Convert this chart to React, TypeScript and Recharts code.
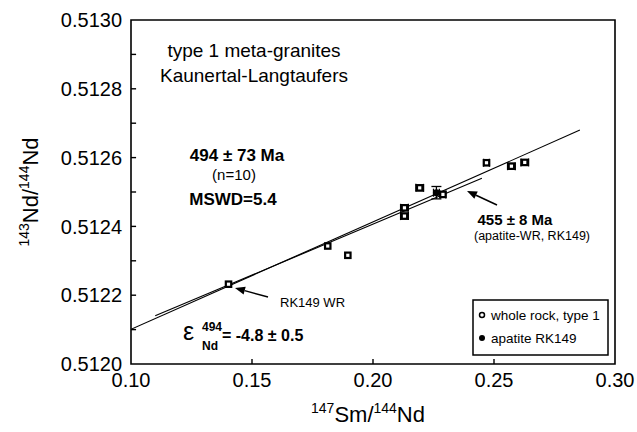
import React from "react";
import {
  ComposedChart,
  XAxis,
  YAxis,
  Scatter,
  Line,
  ErrorBar,
  ReferenceArea,
  ReferenceLine,
} from "recharts";

// whole rock samples, type 1 meta-granites
const wholeRock = [
  { x: 0.1403, y: 0.512232, ex: 0, ey: 0 },
  { x: 0.1813, y: 0.512343, ex: 0, ey: 0 },
  { x: 0.1896, y: 0.512316, ex: 0, ey: 0 },
  { x: 0.213, y: 0.512454, ex: 0.0016, ey: 0.000008 },
  { x: 0.213, y: 0.51243, ex: 0.0016, ey: 0.000008 },
  { x: 0.2193, y: 0.512512, ex: 0.0016, ey: 0.000008 },
  { x: 0.2289, y: 0.512493, ex: 0.0012, ey: 0 },
  { x: 0.2469, y: 0.512585, ex: 0.0012, ey: 0 },
  { x: 0.2572, y: 0.512575, ex: 0.0016, ey: 0.000008 },
  { x: 0.2627, y: 0.512586, ex: 0.0016, ey: 0.000008 },
];
const apatite = [{ x: 0.2262, y: 0.512498, ex: 0.0012, ey: 0.000018 }];

// isochron lines
const isochron494 = [
  { x: 0.1, y: 0.512101 },
  { x: 0.2855, y: 0.51268 },
];
const isochron455 = [
  { x: 0.11, y: 0.51214 },
  { x: 0.245, y: 0.51254 },
];

const xTicks = [0.1, 0.15, 0.2, 0.25, 0.3];
const yTicks = [0.512, 0.5122, 0.5124, 0.5126, 0.5128, 0.513];
const xTickMarks = [0.15, 0.2, 0.25];
const yTickMarks = [0.5121, 0.5122, 0.5123, 0.5124, 0.5125, 0.5126, 0.5127, 0.5128, 0.5129];

const FONT = "'Liberation Sans', Arial, Helvetica, sans-serif";

const OpenSquare = (props: any) => {
  const { cx, cy } = props;
  return <rect x={cx - 2.7} y={cy - 2.7} width={5.4} height={5.4} fill="#fff" stroke="#000" strokeWidth={2.2} />;
};
const FilledDot = (props: any) => {
  const { cx, cy } = props;
  return <circle cx={cx} cy={cy} r={3.5} fill="#000" />;
};

function Arrow({ x1, y1, x2, y2 }: { x1: number; y1: number; x2: number; y2: number }) {
  const a = Math.atan2(y2 - y1, x2 - x1);
  const L = 10;
  const w = 4;
  const bx = x2 - L * Math.cos(a);
  const by = y2 - L * Math.sin(a);
  const px = -Math.sin(a) * w;
  const py = Math.cos(a) * w;
  return (
    <g>
      <line x1={x1} y1={y1} x2={bx} y2={by} stroke="#000" strokeWidth={1.5} />
      <polygon points={`${x2},${y2} ${bx + px},${by + py} ${bx - px},${by - py}`} fill="#000" />
    </g>
  );
}

export default function App() {
  return (
    <div style={{ position: "absolute", left: 0, top: 0, width: 637, height: 432, background: "#fff" }}>
      <ComposedChart width={637} height={432} margin={{ top: 20, right: 22, left: 0, bottom: 0 }}>
        <XAxis
          dataKey="x"
          type="number"
          domain={[0.1, 0.3]}
          ticks={xTicks}
          allowDataOverflow
          height={68}
          axisLine={false}
          tickLine={false}
          tickSize={0}
          tickMargin={9}
          tickFormatter={(v: number) => v.toFixed(2)}
          tick={{ fill: "#000", fontSize: 20, fontFamily: FONT }}
        />
        <YAxis
          dataKey="y"
          type="number"
          domain={[0.512, 0.513]}
          ticks={yTicks}
          allowDataOverflow
          width={131}
          axisLine={false}
          tickLine={false}
          tickSize={0}
          tickMargin={9}
          tickFormatter={(v: number) => v.toFixed(4)}
          tick={{ fill: "#000", fontSize: 20, fontFamily: FONT }}
        />
        <ReferenceArea x1={0.1} x2={0.3} y1={0.512} y2={0.513} fill="none" stroke="#000" strokeWidth={1.6} />
        {yTickMarks.map((v) => (
          <ReferenceLine
            key={"y" + v}
            segment={[
              { x: 0.1, y: v },
              { x: 0.1021, y: v },
            ]}
            stroke="#000"
            strokeWidth={1.4}
          />
        ))}
        {xTickMarks.map((v) => (
          <ReferenceLine
            key={"x" + v}
            segment={[
              { x: v, y: 0.512 },
              { x: v, y: 0.5120145 },
            ]}
            stroke="#000"
            strokeWidth={1.4}
          />
        ))}
        <Line data={isochron494} dataKey="y" type="linear" stroke="#000" strokeWidth={1.1} dot={false} isAnimationActive={false} />
        <Line data={isochron455} dataKey="y" type="linear" stroke="#000" strokeWidth={1.1} dot={false} isAnimationActive={false} />
        <Scatter data={wholeRock} dataKey="y" shape={OpenSquare} isAnimationActive={false}>
          <ErrorBar dataKey="ex" direction="x" width={4} stroke="#000" strokeWidth={1.3} />
          <ErrorBar dataKey="ey" direction="y" width={4} stroke="#000" strokeWidth={1.3} />
        </Scatter>
        <Scatter data={apatite} dataKey="y" shape={FilledDot} isAnimationActive={false}>
          <ErrorBar dataKey="ex" direction="x" width={4} stroke="#000" strokeWidth={1.3} />
          <ErrorBar dataKey="ey" direction="y" width={5} stroke="#000" strokeWidth={1.3} />
        </Scatter>
      </ComposedChart>
      <svg
        width={637}
        height={432}
        style={{ position: "absolute", left: 0, top: 0, pointerEvents: "none" }}
        fontFamily={FONT}
      >
        <text x={254} y={57} fontSize={19} textAnchor="middle" fill="#000">type 1 meta-granites</text>
        <text x={254} y={82} fontSize={19} textAnchor="middle" fill="#000">Kaunertal-Langtaufers</text>

        <text x={237} y={161} fontSize={17} fontWeight="bold" textAnchor="middle" fill="#000">494 ± 73 Ma</text>
        <text x={234} y={180} fontSize={15} textAnchor="middle" fill="#000">(n=10)</text>
        <text x={233} y={205} fontSize={17} fontWeight="bold" textAnchor="middle" fill="#000">MSWD=5.4</text>

        <text x={515} y={225} fontSize={15} fontWeight="bold" textAnchor="middle" fill="#000">455 ± 8 Ma</text>
        <text x={532} y={240} fontSize={12.5} textAnchor="middle" fill="#000">(apatite-WR, RK149)</text>
        <Arrow x1={497} y1={205} x2={467} y2={191} />

        <text x={280} y={307} fontSize={13} fill="#000">RK149 WR</text>
        <Arrow x1={268} y1={297} x2={235} y2={288} />

        <text x={183} y={340} fontSize={25} fill="#000">ε</text>
        <text x={202} y={331} fontSize={12} fontWeight="bold" fill="#000">494</text>
        <text x={202} y={350} fontSize={12} fontWeight="bold" fill="#000">Nd</text>
        <text x={222} y={341} fontSize={16} fontWeight="bold" fill="#000">= -4.8 ± 0.5</text>

        <rect x={473} y={300} width={135} height={55} fill="#fff" stroke="#000" strokeWidth={1.5} />
        <circle cx={482} cy={315} r={2.5} fill="#fff" stroke="#000" strokeWidth={1.5} />
        <text x={491} y={320} fontSize={13.5} fill="#000">whole rock, type 1</text>
        <circle cx={482} cy={338} r={3} fill="#000" />
        <text x={491} y={343} fontSize={13.5} fill="#000">apatite RK149</text>

        <text x={368} y={422} fontSize={22} textAnchor="middle" fill="#000">
          <tspan fontSize={14} dy={-9}>147</tspan>
          <tspan dy={9}>Sm/</tspan>
          <tspan fontSize={14} dy={-9}>144</tspan>
          <tspan dy={9}>Nd</tspan>
        </text>
        <text
          x={0}
          y={0}
          fontSize={22}
          textAnchor="middle"
          fill="#000"
          transform="translate(38,192) rotate(-90)"
        >
          <tspan fontSize={14} dy={-9}>143</tspan>
          <tspan dy={9}>Nd/</tspan>
          <tspan fontSize={14} dy={-9}>144</tspan>
          <tspan dy={9}>Nd</tspan>
        </text>
      </svg>
    </div>
  );
}
